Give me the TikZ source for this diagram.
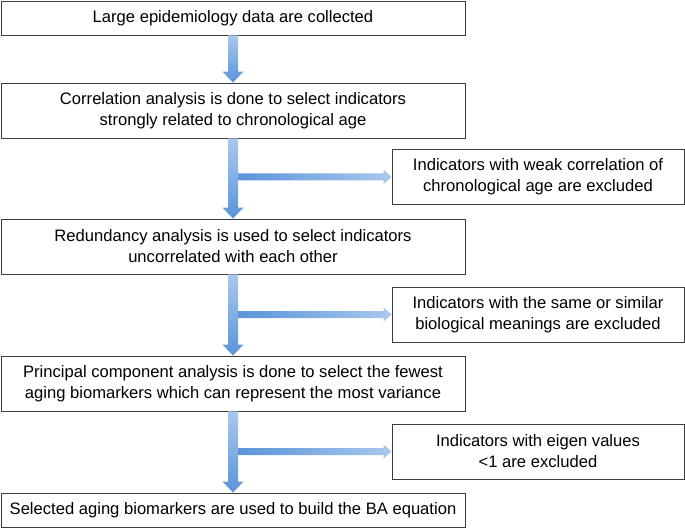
\documentclass[tikz,border=0pt]{standalone}
\usepackage{fontspec}
\setmainfont{Liberation Sans}
\usetikzlibrary{calc}
\definecolor{boxline}{HTML}{3C3C3C}
\definecolor{arrlight}{HTML}{A9C8EE}
\definecolor{arrdark}{HTML}{5A94D8}
\tikzset{
  box/.style={draw=boxline, line width=0.9pt, fill=white, inner sep=0pt, align=center,
    font=\fontsize{16.6}{21}\selectfont},
  mainbox/.style={box, minimum width=464pt},
  sidebox/.style={box, minimum width=292pt, minimum height=55pt},
  vshade/.style={top color=arrlight, bottom color=arrdark},
  hshade/.style={left color=arrdark, right color=arrlight},
}
\newcommand{\vflow}[2]{%
  \shade[vshade] ($(#1)+(-5,0)$) -- ($(#2)+(-5,-11)$) -- ($(#2)+(-10.5,-11)$) -- (#2)
    -- ($(#2)+(10.5,-11)$) -- ($(#2)+(5,-11)$) -- ($(#1)+(5,0)$) -- cycle;}
\newcommand{\hflow}[2]{%
  \shade[hshade] ($(#1)+(0,-3.5)$) -- ($(#2)+(-8,-3.5)$) -- ($(#2)+(-8,-7)$) -- (#2)
    -- ($(#2)+(-8,7)$) -- ($(#2)+(-8,3.5)$) -- ($(#1)+(0,3.5)$) -- cycle;}
\begin{document}
\begin{tikzpicture}[x=1pt,y=-1pt]
\useasboundingbox (0,0) rectangle (685,529);
\node[mainbox, minimum height=34pt] (b1) at (233,18) {Large epidemiology data are collected};
\node[mainbox, minimum height=55pt] (b2) at (233,110.5) {Correlation analysis is done to select indicators\\strongly related to chronological age};
\node[mainbox, minimum height=55pt] (b3) at (233,246.5) {Redundancy analysis is used to select indicators\\uncorrelated with each other};
\node[mainbox, minimum height=55pt] (b4) at (233,383.5) {Principal component analysis is done to select the fewest\\aging biomarkers which can represent the most variance};
\node[mainbox, minimum height=34pt] (b5) at (233,510) {Selected aging biomarkers are used to build the BA equation};
\node[sidebox] (s1) at (538,177) {Indicators with weak correlation of\\chronological age are excluded};
\node[sidebox] (s2) at (538,314.5) {Indicators with the same or similar\\biological meanings are excluded};
\node[sidebox] (s3) at (538,451.5) {Indicators with eigen values\\<1 are excluded};
% branch start points on the shafts
\coordinate (j1) at (237,177);
\coordinate (j2) at (237,314.5);
\coordinate (j3) at (237,451.5);
\hflow{j1}{s1.west}
\hflow{j2}{s2.west}
\hflow{j3}{s3.west}
\vflow{b1.south}{b2.north}
\vflow{b2.south}{b3.north}
\vflow{b3.south}{b4.north}
\vflow{b4.south}{b5.north}
\end{tikzpicture}
\end{document}
